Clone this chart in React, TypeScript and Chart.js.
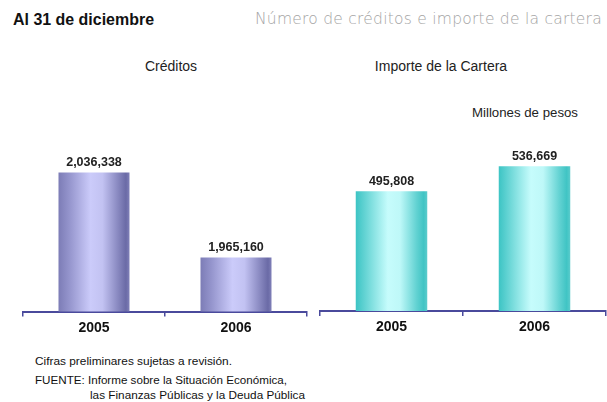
import React, { useEffect, useLayoutEffect, useRef } from "react";
import { Chart, registerables } from "chart.js";

Chart.register(...registerables);

// ---- data ----
const years: string[] = ["2005", "2006"];
const creditos: number[] = [2036338, 1965160];
const importe: number[] = [495808, 536669];
const creditosRange: number[] = [1920000, 2070000];
const importeRange: number[] = [300000, 600000];

const headerLeft = "Al 31 de diciembre";
const headerRight = "Número de créditos e importe de la cartera";
const titleLeft = "Créditos";
const titleRight = "Importe de la Cartera";
const unitsText = "Millones de pesos";
const notes: string[] = [
  "Cifras preliminares sujetas a revisión.",
  "FUENTE: Informe sobre la Situación Económica,",
  "las Finanzas Públicas y la Deuda Pública",
];

const SANS = "'Liberation Sans', Arial, sans-serif";
const AXIS_COLOR = "#4a4a9c";

const purpleStops: [number, string][] = [
  [0, "#7c7cb6"],
  [0.15, "#9494cc"],
  [0.45, "#cbcbfa"],
  [0.62, "#c2c2f2"],
  [0.85, "#8585bd"],
  [0.95, "#6a6aa6"],
  [1, "#8080b8"],
];
const cyanStops: [number, string][] = [
  [0, "#3cc4c4"],
  [0.15, "#6ad6d6"],
  [0.45, "#c6fcfc"],
  [0.62, "#bef8f8"],
  [0.85, "#62d2d2"],
  [0.95, "#40c4c4"],
  [1, "#5ccccc"],
];

function fmt(v: number): string {
  return v.toLocaleString("en-US");
}

const valueLabels = {
  id: "valueLabels",
  afterDatasetsDraw(chart: any) {
    const ctx = chart.ctx;
    const meta = chart.getDatasetMeta(0);
    const data = chart.data.datasets[0].data as number[];
    ctx.save();
    ctx.font = `bold 12.5px ${SANS}`;
    ctx.fillStyle = "#222";
    ctx.textAlign = "center";
    ctx.textBaseline = "middle";
    meta.data.forEach((el: any, i: number) => {
      ctx.fillText(fmt(data[i]), el.x, el.y - 10);
    });
    ctx.restore();
  },
};

function makeGradientFill(stops: [number, string][]) {
  return (context: any) => {
    const chart = context.chart;
    const xs = chart.scales?.x;
    if (!xs || !chart.chartArea || context.dataIndex === undefined) return stops[2][1];
    const cx = xs.getPixelForValue(context.dataIndex);
    const catW = (chart.chartArea.right - chart.chartArea.left) / chart.data.labels.length;
    const w = catW * 0.5;
    const g = chart.ctx.createLinearGradient(cx - w / 2, 0, cx + w / 2, 0);
    stops.forEach(([p, c]) => g.addColorStop(p, c));
    return g;
  };
}

type BarProps = {
  values: number[];
  range: number[];
  stops: [number, string][];
  left: number;
  top: number;
  width: number;
  height: number;
  padding: { left: number; right: number; top: number; bottom: number };
};

function BarChart({ values, range, stops, left, top, width, height, padding }: BarProps) {
  const ref = useRef<HTMLCanvasElement | null>(null);
  useEffect(() => {
    if (!ref.current) return;
    const chart = new Chart(ref.current, {
      type: "bar",
      data: {
        labels: years,
        datasets: [
          {
            data: values,
            backgroundColor: makeGradientFill(stops),
            borderWidth: 0,
            barPercentage: 0.5,
            categoryPercentage: 1,
          },
        ],
      },
      options: {
        animation: false,
        responsive: false,
        devicePixelRatio: 1,
        layout: { padding },
        plugins: {
          legend: { display: false },
          tooltip: { enabled: false },
          title: { display: false },
        },
        scales: {
          x: {
            offset: true,
            grid: {
              offset: true,
              drawOnChartArea: false,
              drawTicks: true,
              tickLength: 5,
              color: AXIS_COLOR,
              lineWidth: 1.5,
            },
            border: { display: true, color: AXIS_COLOR, width: 2 },
            ticks: {
              color: "#111",
              font: { family: SANS, size: 14, weight: "bold" },
              padding: 3,
            },
            afterFit: (scale: any) => {
              scale.height = 30;
            },
          },
          y: {
            display: false,
            min: range[0],
            max: range[1],
          },
        },
      },
      plugins: [valueLabels],
    });
    return () => chart.destroy();
  }, []);
  return (
    <canvas
      ref={ref}
      width={width}
      height={height}
      style={{ position: "absolute", left, top, width, height, display: "block" }}
    />
  );
}

type FitProps = {
  text: string;
  left: number;
  top: number;
  width?: number;
  size: number;
  weight?: string | number;
  color?: string;
  family?: string;
  mode?: "scale" | "spacing";
  center?: boolean;
};

function FitText({ text, left, top, width, size, weight = "normal", color = "#222", family = SANS, mode = "scale", center = false }: FitProps) {
  const ref = useRef<HTMLSpanElement | null>(null);
  useLayoutEffect(() => {
    const el = ref.current;
    if (!el || !width) return;
    el.style.transform = "none";
    el.style.letterSpacing = "0px";
    const natural = el.getBoundingClientRect().width;
    if (natural <= 0) return;
    if (mode === "scale") {
      el.style.transformOrigin = "left center";
      el.style.transform = `scaleX(${width / natural})`;
    } else {
      el.style.letterSpacing = `${(width - natural) / text.length}px`;
    }
  }, [text, width, mode]);
  return (
    <span
      ref={ref}
      style={{
        position: "absolute",
        left,
        top,
        whiteSpace: "nowrap",
        fontFamily: family,
        fontSize: size,
        lineHeight: `${size}px`,
        fontWeight: weight as any,
        color,
        transform: center ? "translateX(-50%)" : undefined,
      }}
    >
      {text}
    </span>
  );
}

export default function App() {
  return (
    <div
      style={{
        position: "absolute",
        left: 0,
        top: 0,
        width: 607,
        height: 402,
        background: "#ffffff",
        overflow: "hidden",
        fontFamily: SANS,
      }}
    >
      <FitText text={headerLeft} left={13} top={11.5} width={141} size={16} weight="bold" color="#111" />
      <FitText
        text={headerRight}
        left={255}
        top={12}
        width={347}
        size={15.5}
        weight={300}
        color="#a4a4a4"
        family="'DejaVu Sans', sans-serif"
        mode="spacing"
      />
      <FitText text={titleLeft} left={171} top={59} size={14} color="#222" center />
      <FitText text={titleRight} left={441} top={59} size={14} color="#222" center />
      <FitText text={unitsText} left={472} top={107} width={106} size={12.5} color="#222" />

      <BarChart
        values={creditos}
        range={creditosRange}
        stops={purpleStops}
        left={0}
        top={100}
        width={315}
        height={250}
        padding={{ left: 23, right: 8, top: 32.4, bottom: 8.5 }}
      />
      <BarChart
        values={importe}
        range={importeRange}
        stops={cyanStops}
        left={312}
        top={100}
        width={295}
        height={250}
        padding={{ left: 8, right: 1, top: 27.4, bottom: 9 }}
      />

      <FitText text={notes[0]} left={35} top={356} width={197} size={11.5} color="#111" />
      <FitText text={notes[1]} left={35} top={375} width={252} size={11.5} color="#111" />
      <FitText text={notes[2]} left={90} top={390} width={215} size={11.5} color="#111" />
    </div>
  );
}
